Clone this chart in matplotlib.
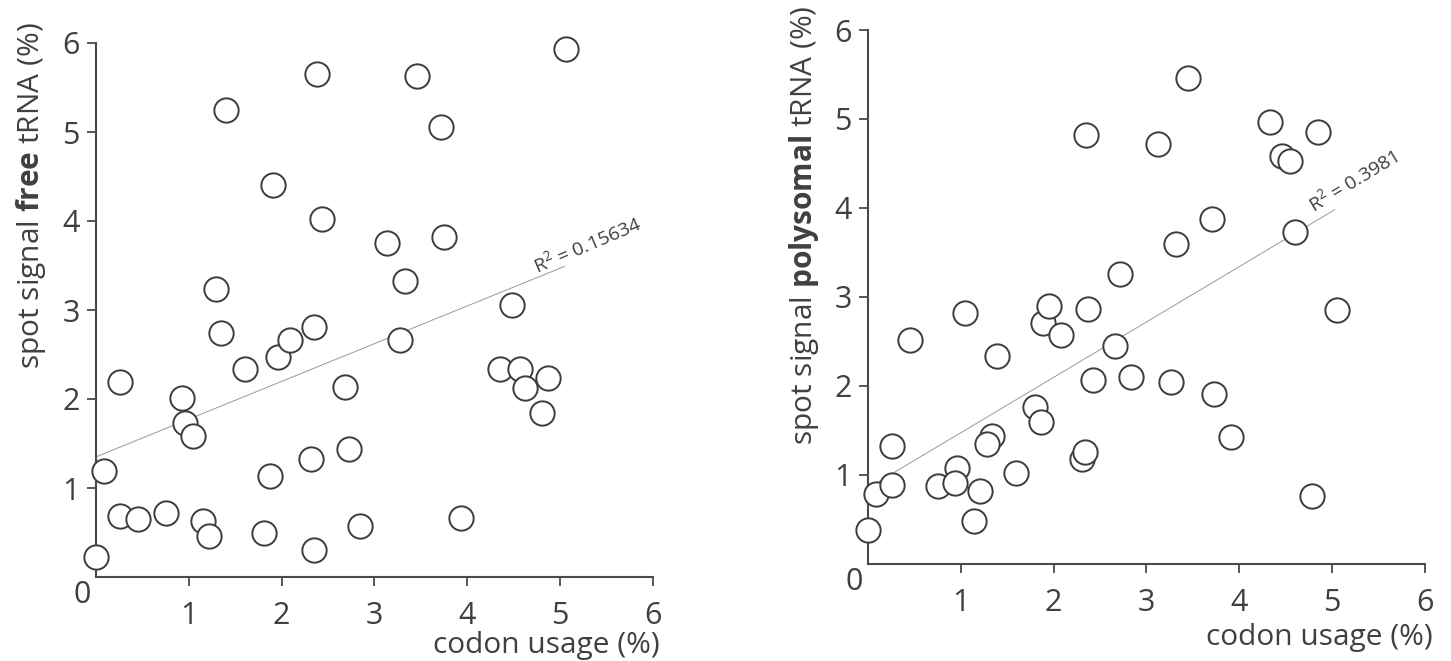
import matplotlib
matplotlib.use("Agg")
import matplotlib.pyplot as plt
import numpy as np

plt.rcParams['font.family'] = ['Open Sans', 'DejaVu Sans']
plt.rcParams['mathtext.fontset'] = 'custom'
plt.rcParams['mathtext.rm'] = 'Open Sans'
plt.rcParams['mathtext.it'] = 'Open Sans'
plt.rcParams['mathtext.bf'] = 'Open Sans:bold'

# ---- data: free tRNA panel ----
free_x = [0.00, 0.09, 0.26, 0.26, 0.45, 0.75, 0.93, 0.96, 1.05, 1.15, 1.22, 1.29, 1.35, 1.40,
          1.61, 1.81, 1.87, 1.91, 1.96, 2.09, 2.32, 2.35, 2.35, 2.38, 2.44, 2.68, 2.73, 2.84,
          3.14, 3.28, 3.33, 3.46, 3.72, 3.75, 3.93, 4.35, 4.48, 4.57, 4.62, 4.87, 4.81, 5.07]
free_y = [0.22, 1.19, 2.19, 0.69, 0.65, 0.72, 2.01, 1.73, 1.58, 0.63, 0.46, 3.24, 2.74, 5.25,
          2.34, 0.50, 1.14, 4.40, 2.47, 2.66, 1.33, 0.30, 2.81, 5.65, 4.02, 2.13, 1.44, 0.57,
          3.75, 2.66, 3.33, 5.63, 5.06, 3.82, 0.66, 2.34, 3.06, 2.34, 2.12, 2.24, 1.84, 5.93]
free_fit_x = [0.0, 5.05]
free_fit_y = [1.35, 3.49]
free_r2 = "0.15634"

# ---- data: polysomal tRNA panel ----
poly_x = [0.00, 0.09, 0.26, 0.26, 0.45, 0.75, 0.96, 0.94, 1.05, 1.14, 1.21, 1.34, 1.28, 1.39,
          1.60, 1.80, 1.86, 1.89, 1.95, 2.08, 2.31, 2.34, 2.37, 2.35, 2.43, 2.66, 2.72, 2.83,
          3.13, 3.27, 3.32, 3.71, 3.73, 3.91, 3.45, 4.33, 4.46, 4.55, 4.85, 4.60, 5.06, 4.79]
poly_y = [0.38, 0.78, 1.32, 0.88, 2.51, 0.87, 1.08, 0.91, 2.82, 0.48, 0.82, 1.44, 1.35, 2.34,
          1.02, 1.76, 1.59, 2.71, 2.90, 2.57, 1.18, 1.26, 2.86, 4.82, 2.06, 2.45, 3.26, 2.10,
          4.72, 2.04, 3.59, 3.87, 1.91, 1.42, 5.46, 4.97, 4.58, 4.53, 4.85, 3.73, 2.85, 0.76]
poly_fit_x = [0.0, 5.03]
poly_fit_y = [0.85, 3.98]
poly_r2 = "0.3981"

ticks = [1, 2, 3, 4, 5, 6]
tick_labels = ["1", "2", "3", "4", "5", "6"]
xlabel = "codon usage (%)"
ylabels = [r"spot signal $\mathbf{free}$ tRNA (%)",
           r"spot signal $\mathbf{polysomal}$ tRNA (%)"]

W, H = 1451, 661
fig = plt.figure(figsize=(W / 100, H / 100), dpi=100)
TXT = '#404040'
EDGE = '#3c3c3c'
LABEL_FS = 21.5
TICK_FS = 22


def px_ax(x0, y0, x6, y6):
    return [x0 / W, 1 - y0 / H, (x6 - x0) / W, (y0 - y6) / H]


ax1 = fig.add_axes(px_ax(96, 577, 652.7, 43))
ax2 = fig.add_axes(px_ax(868, 563.7, 1424.7, 30))

panels = [
    (ax1, free_x, free_y, free_fit_x, free_fit_y, free_r2, (4.75, 3.41), 23),
    (ax2, poly_x, poly_y, poly_fit_x, poly_fit_y, poly_r2, (4.80, 3.95), 31),
]

for ax, xs, ys, fx, fy, r2, tpos, ang in panels:
    ax.set_xlim(0, 6)
    ax.set_ylim(0, 6)
    ax.plot(fx, fy, color='#9a9a9a', lw=0.7, zorder=1)
    ax.plot(xs, ys, linestyle='none', marker='o', markersize=17.5,
            markerfacecolor='white', markeredgecolor=EDGE, markeredgewidth=1.4,
            clip_on=False, zorder=3)
    ax.text(tpos[0], tpos[1], r"R$^2$ = " + r2, rotation=ang, rotation_mode='anchor',
            ha='left', va='baseline', fontsize=14, color=TXT, zorder=2)
    for s in ['top', 'right']:
        ax.spines[s].set_visible(False)
    for s in ['left', 'bottom']:
        ax.spines[s].set_color('#4a4a4a')
        ax.spines[s].set_linewidth(1.5)
    ax.set_xticks(ticks)
    ax.set_xticklabels(tick_labels)
    ax.set_yticks(ticks)
    ax.set_yticklabels(tick_labels)
    ax.tick_params(axis='both', direction='out', length=6.5, width=1.3, color='#4a4a4a',
                   labelsize=TICK_FS, labelcolor=TXT)
    ax.tick_params(axis='x', pad=11)
    ax.tick_params(axis='y', pad=5)
    ax.annotate("0", xy=(0, 0), xytext=(-10, -13), textcoords='offset points',
                ha='center', va='center', fontsize=TICK_FS, color=TXT, annotation_clip=False)

# x labels
fig.text(660 / W, 1 - 645 / H, xlabel, ha='right', va='center', fontsize=LABEL_FS, color=TXT)
fig.text(1433 / W, 1 - 638 / H, xlabel, ha='right', va='center', fontsize=LABEL_FS, color=TXT)
# y labels
fig.text(31 / W, 1 - 22 / H, ylabels[0], rotation=90, ha='center', va='top', fontsize=LABEL_FS, color=TXT)
fig.text(804 / W, 1 - 5 / H, ylabels[1], rotation=90, ha='center', va='top', fontsize=LABEL_FS, color=TXT)

fig.savefig("out.png", dpi=100)
